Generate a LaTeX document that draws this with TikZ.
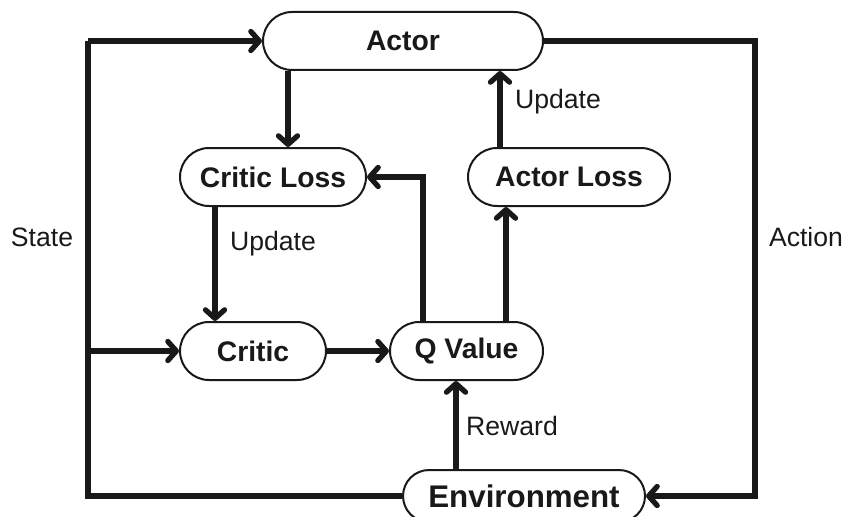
\documentclass[tikz,border=0pt]{standalone}
\usepackage{fontspec}
\setmainfont{Liberation Sans}
\usetikzlibrary{arrows.meta,shapes.misc}
\begin{document}
\begin{tikzpicture}[x=1pt,y=-1pt,
  box/.style={draw=black!90, line width=2pt, rounded rectangle, fill=white,
    font=\fontsize{28.3}{30}\selectfont\bfseries, inner sep=0pt, text=black!90},
  conn/.style={draw=black!90, line width=5.3pt, -{Straight Barb[length=8.5pt,width=19pt,line width=5.3pt,line cap=round,line join=round]}},
  plain/.style={draw=black!90, line width=5.3pt},
  lbl/.style={font=\fontsize{26.6}{30}\selectfont, text=black!90}]
\useasboundingbox (0,0) rectangle (858,516);
\node[box, minimum width=280pt, minimum height=58pt] (actor) at (403,41) {Actor};
\node[box, minimum width=186pt, minimum height=58pt] (closs) at (273,177) {Critic Loss};
\node[box, minimum width=202pt, minimum height=58pt] (aloss) at (569,177) {Actor Loss};
\node[box, minimum width=146pt, minimum height=58pt] (critic) at (253,351) {Critic};
\node[box, minimum width=153pt, minimum height=58pt] (q) at (466.5,351) {Q Value};
\node[box, minimum width=242pt, minimum height=52pt, font=\fontsize{31.3}{34}\selectfont\bfseries] (env) at (524,496) {Environment};
\coordinate (tl) at (88,41);
\coordinate (bl) at (88,496);
\coordinate (ml) at (88,351);
\coordinate (tr) at (755,41);
\coordinate (br) at (755,496);
\draw[plain, line join=miter] (env.west) -- (bl) -- (tl);
\draw[conn] (tl) -- (actor.west);
\draw[conn] (ml) -- (critic.west);
\draw[conn] (actor.east) -- (tr) -- (br) -- (env.east);
\draw[conn] (actor.south -| 288,0) -- (closs.north -| 288,0);
\draw[conn] (closs.south -| 215,0) -- (critic.north -| 215,0);
\draw[conn] (critic.east) -- (q.west);
\draw[conn] (q.north -| 423,0) -- (423,177) -- (closs.east);
\draw[conn] (q.north -| 506,0) -- (aloss.south -| 506,0);
\draw[conn] (aloss.north -| 500,0) -- (actor.south -| 500,0);
\draw[conn] (env.north -| 456,0) -- (q.south -| 456,0);
\node[lbl] (u1) at (273,244) {Update};
\node[lbl] (u2) at (558,102) {Update};
\node[lbl] (rw) at (512,426) {Reward};
\node[lbl] (st) at (42,237) {State};
\node[lbl] (ac) at (806,237) {Action};
\end{tikzpicture}
\end{document}
